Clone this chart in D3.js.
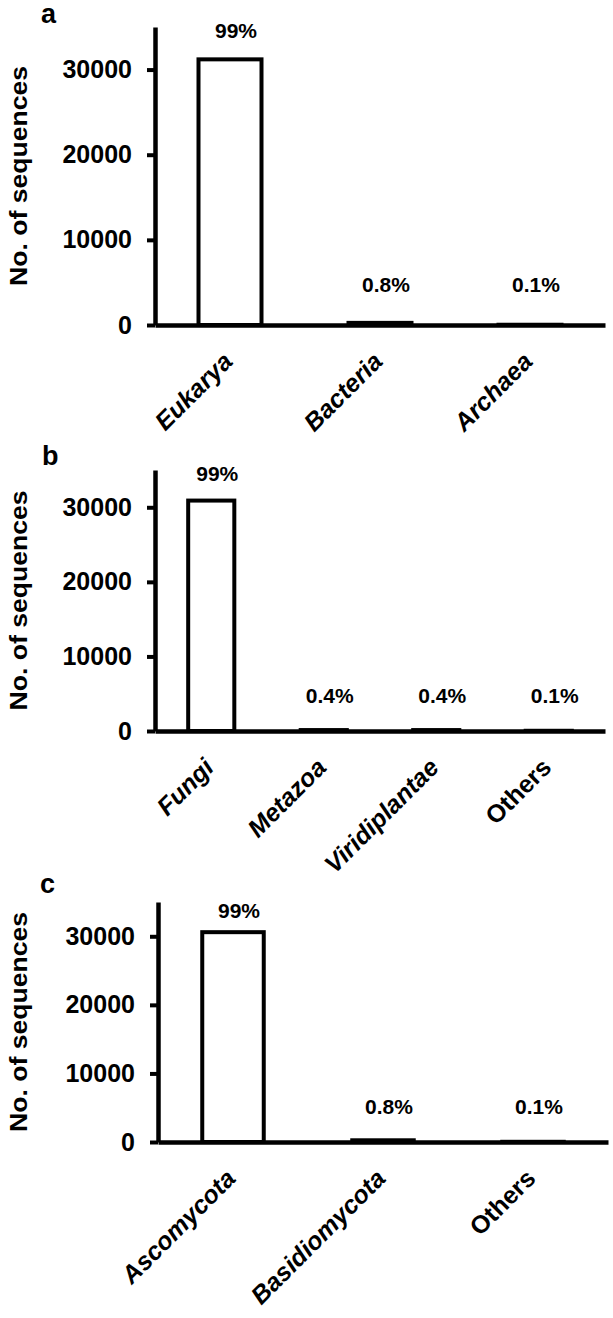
<!DOCTYPE html>
<html>
<head>
<meta charset="utf-8">
<script src="https://cdn.jsdelivr.net/npm/d3@7"></script>
<style>
  body { margin: 0; background: #fff; }
  svg { display: block; }
  text { font-family: "Liberation Sans", Arial, sans-serif; font-weight: bold; fill: #000; }
</style>
</head>
<body>
<svg id="chart" width="613" height="1318"></svg>
<script>
// values
var domainCats = ['Eukarya', 'Bacteria', 'Archaea'];
var domainCounts = [31200, 250, 30];
var domainPct = ['99%', '0.8%', '0.1%'];

var eukCats = ['Fungi', 'Metazoa', 'Viridiplantae', 'Others'];
var eukCounts = [30900, 125, 125, 30];
var eukPct = ['99%', '0.4%', '0.4%', '0.1%'];

var fungiCats = ['Ascomycota', 'Basidiomycota', 'Others'];
var fungiCounts = [30600, 250, 30];
var fungiPct = ['99%', '0.8%', '0.1%'];

var yTicks = [0, 10000, 20000, 30000];
var yMax = 35000;
var yTitle = 'No. of sequences';

// panel layout
var panels = [
  {letter: 'a', lx: 41, ly: 23, left: 155, right: 605, top: 27, bottom: 325, bigOff: 21, smallOff: 33,
   cats: domainCats, counts: domainCounts, pct: domainPct, pad: 0.58},
  {letter: 'b', lx: 42, ly: 465, left: 155, right: 605, top: 470, bottom: 731, bigOff: 20, smallOff: 28,
   cats: eukCats, counts: eukCounts, pct: eukPct, pad: 0.59},
  {letter: 'c', lx: 40, ly: 893, left: 158, right: 608, top: 902, bottom: 1142, bigOff: 14, smallOff: 28,
   cats: fungiCats, counts: fungiCounts, pct: fungiPct, pad: 0.59}
];

var svg = d3.select('#chart');

panels.forEach(function(p) {
  var g = svg.append('g');

  var x = d3.scaleBand().domain(p.cats).range([p.left, p.right]).paddingInner(p.pad).paddingOuter(p.pad / 2);
  var y = d3.scaleLinear().domain([0, yMax]).range([p.bottom, p.top]);

  // bars
  g.selectAll('rect.bar')
    .data(p.counts)
    .enter().append('rect')
    .attr('class', 'bar')
    .attr('x', function(d, i) { return x(p.cats[i]); })
    .attr('y', function(d) { return y(d); })
    .attr('width', x.bandwidth())
    .attr('height', function(d) { return y(0) - y(d); })
    .attr('fill', '#fff')
    .attr('stroke', '#000')
    .attr('stroke-width', 4);

  // percentage labels
  g.selectAll('text.pct')
    .data(p.pct)
    .enter().append('text')
    .attr('class', 'pct')
    .attr('x', function(d, i) { return x(p.cats[i]) + x.bandwidth() / 2 + 6; })
    .attr('y', function(d, i) { return Math.min(y(p.counts[i]) - p.bigOff, y(0) - p.smallOff); })
    .attr('text-anchor', 'middle')
    .style('font-size', '21px')
    .text(function(d) { return d; });

  // y axis
  var yAxis = g.append('g')
    .attr('transform', 'translate(' + p.left + ',0)')
    .call(d3.axisLeft(y).tickValues(yTicks).tickSize(8).tickSizeOuter(0).tickPadding(15).tickFormat(d3.format('d')));
  yAxis.select('.domain').attr('stroke-width', 4.5);
  yAxis.selectAll('.tick line').attr('stroke-width', 4);
  yAxis.selectAll('text')
    .attr('font-family', null)
    .style('font-size', '25px');

  // x axis
  var xAxis = g.append('g')
    .attr('transform', 'translate(0,' + p.bottom + ')')
    .call(d3.axisBottom(x).tickSize(0).tickSizeOuter(0));
  xAxis.select('.domain').attr('stroke-width', 4.5);
  xAxis.selectAll('text')
    .attr('y', 0)
    .attr('dy', null)
    .attr('text-anchor', 'end')
    .attr('transform', 'translate(4,38) rotate(-45)')
    .style('font-size', '25px')
    .style('font-style', function(d) { return d === 'Others' ? 'normal' : 'italic'; });
  g.selectAll('.tick text').attr('fill', '#000');

  // y title
  g.append('text')
    .attr('transform', 'translate(27,' + ((p.top + p.bottom) / 2) + ') rotate(-90)')
    .attr('text-anchor', 'middle')
    .attr('textLength', 220)
    .attr('lengthAdjust', 'spacingAndGlyphs')
    .style('font-size', '23px')
    .text(yTitle);

  // panel letter
  g.append('text')
    .attr('x', p.lx)
    .attr('y', p.ly)
    .style('font-size', '27px')
    .text(p.letter);
});
</script>
</body>
</html>
